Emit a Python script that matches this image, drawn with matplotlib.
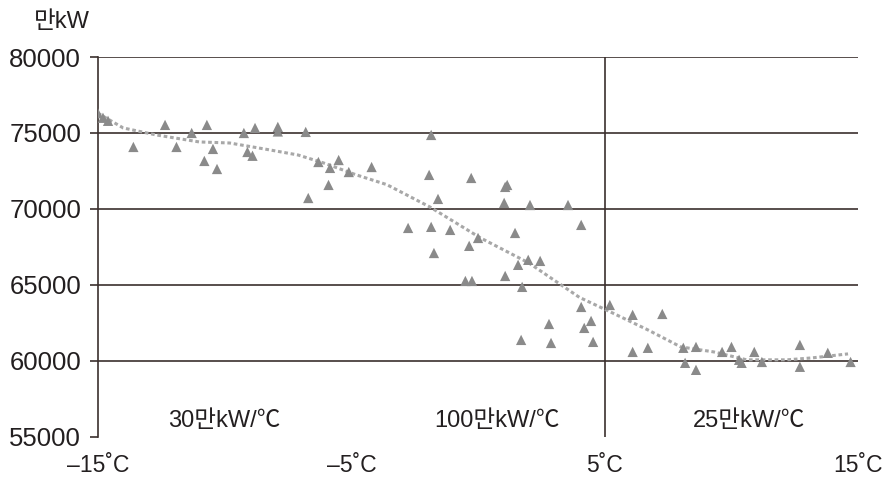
import matplotlib.pyplot as plt

plt.rcParams['font.family'] = ['Liberation Sans', 'Noto Sans CJK KR', 'DejaVu Sans']

temp = [-15.0, -14.8, -14.6, -13.6, -12.35, -11.9, -11.3, -10.7, -10.46, -10.8,
        -10.3, -9.24, -8.8, -9.1, -8.9, -7.9, -7.9, -6.8, -6.3, -5.84,
        -5.5, -5.1, -4.2, -5.9, -6.7,
        -1.85, -1.93, -0.27, 1.07, -1.58, 1.03, -2.76, -1.85, -1.1, 0.0,
        -0.35, -1.74, -0.5, -0.24, 1.07, 1.15, 2.05, 3.55, 4.07, 1.46,
        1.98, 1.58, 2.45, 1.74, 4.07, 4.46, 4.19, 2.8, 1.7, 2.88,
        4.54, 5.2, 6.1, 7.27, 6.1, 6.7, 8.1, 8.6, 8.17, 8.6,
        9.63, 10.0, 10.3, 10.4, 10.9, 11.2, 12.7, 12.7, 13.8, 14.7]
demand = [76300, 76000, 75800, 74080, 75530, 74080, 75000, 75530, 73950, 73160,
          72630, 75000, 75330, 73750, 73500, 75400, 75100, 75070, 73090, 72700,
          73220, 72430, 72760, 71580, 70720,
          74870, 72240, 72040, 71450, 70660, 70400, 68750, 68820, 68620, 68090,
          67570, 67100, 65260, 65260, 65590, 71580, 70260, 70260, 68950, 68420,
          66650, 66320, 66580, 64870, 63550, 62630, 62170, 62430, 61380, 61180,
          61250, 63680, 63030, 63090, 60590, 60860, 60860, 60920, 59870, 59410,
          60590, 60920, 60070, 59870, 60590, 59930, 61050, 59610, 60530, 59930]

# trend curve
trend_x = [-15, -14, -12.7, -11, -9.8, -8.2, -7.1, -6.1, -4.8, -3.6, -1.9, 0.1,
           2.0, 4.0, 5.3, 6.7, 8.0, 9.3, 10.6, 12.2, 13.2, 14.6]
trend_y = [76300, 75330, 74870, 74410, 74340, 73880, 73550, 73030, 72240, 71600,
           70130, 68090, 66450, 64180, 63160, 62040, 60920, 60590, 60070, 60070,
           60200, 60460]

yticks = [55000, 60000, 65000, 70000, 75000, 80000]
xticks = [-15, -5, 5, 15]
xlabels = ['–15˚C', '–5˚C', '5˚C', '15˚C']
slopes = ['30만kW/℃', '100만kW/℃', '25만kW/℃']
slope_x = [-10.0, 0.75, 10.7]

ink = '#231f20'
line_col = '#3b302e'
gray = '#8a8a8a'

fig = plt.figure(figsize=(8.82, 4.79), dpi=100)
ax = fig.add_axes([0.111, 0.088, 0.862, 0.793])

for y in yticks[1:]:
    ax.axhline(y, color=line_col, lw=1.2, zorder=1)
ax.axvline(5, color=line_col, lw=1.2, zorder=1)

ax.plot(trend_x, trend_y, color='#a8a8a8', lw=2.2, ls=(0, (1.2, 0.9)), zorder=2)
ax.scatter(temp, demand, marker='^', s=55, color=gray, edgecolors='none', zorder=3)

for lbl, xx in zip(slopes, slope_x):
    ax.text(xx, 56050, lbl, ha='center', va='center', fontsize=17, color=ink)

ax.set_xlim(-15, 15)
ax.set_ylim(55000, 80000)
ax.set_yticks(yticks)
ax.set_yticklabels([str(v) for v in yticks])
ax.set_xticks(xticks)
ax.set_xticklabels(xlabels)
ax.tick_params(axis='y', length=6, width=1.2, color=line_col, labelsize=18.5,
               labelcolor=ink, pad=6)
ax.tick_params(axis='x', length=0, labelsize=16.5, labelcolor=ink, pad=12)
for s in ['top', 'right', 'bottom']:
    ax.spines[s].set_visible(False)
ax.spines['left'].set_color(line_col)
ax.spines['left'].set_linewidth(1.2)

fig.text(0.038, 0.955, '만kW', fontsize=17, color=ink, ha='left', va='center')

fig.savefig('out.png', dpi=100)
